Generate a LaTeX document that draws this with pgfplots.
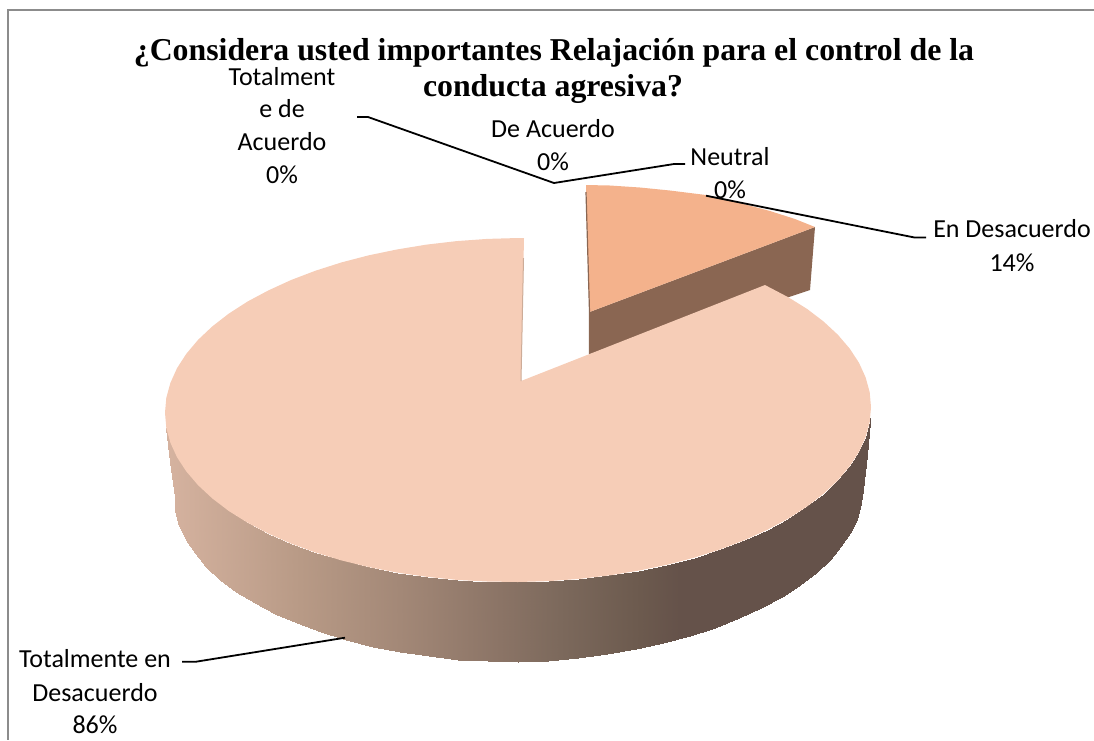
\documentclass[border=0pt]{standalone}
\usepackage{pgfplots}
\pgfplotsset{compat=1.18}
\usepackage{fontspec}
\setmainfont{Carlito}
\newfontfamily\titlefont{Liberation Serif}
\definecolor{mainface}{RGB}{246,205,183}
\definecolor{smallface}{RGB}{244,178,140}
\definecolor{smallwall}{RGB}{138,102,82}
\definecolor{framegray}{RGB}{140,140,140}
\tikzset{
  lbl/.style={font=\fontsize{26}{26}\selectfont,anchor=base,inner sep=0pt,text=black},
  ttl/.style={font=\fontsize{31.8}{31.8}\selectfont\titlefont\bfseries,anchor=base,inner sep=0pt,text=black},
  lead/.style={black,line width=1.8pt},
}
\begin{document}
\begin{tikzpicture}[x=1pt,y=1pt]
\path[use as bounding box] (0,0) rectangle (1094,740);
\begin{axis}[
  at={(0,0)},anchor=south west,
  hide axis,scale only axis,width=1094pt,height=740pt,
  xmin=0,xmax=1094,ymin=0,ymax=740,y dir=reverse,clip=false,
  colormap={piewall}{
    rgb255(165)=(214,179,160)
    rgb255(300)=(184,154,134)
    rgb255(400)=(163,136,119)
    rgb255(500)=(139,116,102)
    rgb255(560)=(124,105,92)
    rgb255(640)=(108,90,78)
    rgb255(680)=(101,82,74)
    rgb255(871)=(101,82,74)},
  point meta min=165,point meta max=871,
]
% frame
\addplot[framegray,line width=2.4pt,no markers] coordinates {(1094,10) (8,10) (8,740)};
% small slice wall
\addplot[fill=smallwall,draw=none,no markers] coordinates {(815,227) (589.5,312) (589.5,354) (700,330) (789,297) (810,290)};
% small slice face
\addplot[fill=smallface,draw=none,no markers] coordinates {(586,185) (610,185.5) (640,187.5) (670,190.5) (706,195) (740,203) (770,211) (795,219) (815,227) (589.5,312)};
\addplot[smallwall,line width=1.2pt,no markers] coordinates {(586,192) (589.5,312) (589.5,354)};
% main wall
\addplot[surf,shader=interp,mesh/rows=2,mesh/ordering=y varies,point meta=x] table {
166.3 427.8
166.3 428
170.4 442.7
170 462
177 457.2
174.5 497
177 457.2
175.3 511.4
186.3 471.4
179.2 525.7
186.3 471.4
185.7 539.7
198.1 485.2
194.7 553.4
198.1 485.2
206.2 566.7
212.3 498.4
220.1 579.5
228.8 511
236.2 591.6
247.6 522.7
254.5 603.1
268.4 533.6
274.8 613.7
291.1 543.6
296.9 623.4
315.5 552.5
320.7 632.2
341.5 560.4
346 639.9
368.8 567.1
372.6 646.5
397.3 572.6
400.4 652.1
426.6 576.8
429 656.4
456.7 579.9
458.3 659.5
487.2 581.5
488 661.4
518 582
518 662
548.8 581.1
548 660.7
579.3 578.9
577.7 658.1
609.4 575.4
607 654.3
638.7 570.6
635.6 649.4
667.2 564.7
663.4 643.1
694.5 557.6
690 635.9
720.5 549.3
715.3 627.6
744.9 540
739.1 618.3
767.6 529.6
761.2 608
788.4 518.5
781.5 596.9
807.2 506.4
799.8 585
823.7 493.6
815.9 572.6
837.9 480.2
829.8 559.6
849.7 466.2
841.3 546.2
849.7 466.2
850.3 532.7
859 451.8
856.8 518.7
865.6 437.1
860.7 503.4
865.6 437.1
862.5 490
869.7 422.2
866.5 455
870.2 418
870.2 418
};
% main face
\addplot[fill=mainface,draw=none,no markers] coordinates {
(524,238) (518,238) (487.2,238.9) (456.7,241.1) (426.6,244.6) (397.3,249.4) (368.8,255.3) (341.5,262.4) (315.5,270.7) (291.1,280) (268.4,290.4) (247.6,301.5) (228.8,313.6) (212.3,326.4) (198.1,339.8) (186.3,353.8) (177,368.2) (170.4,382.9) (166.3,397.8) (165,412.8)
(166.3,427.8) (170.4,442.7) (177,457.2) (186.3,471.4) (198.1,485.2) (212.3,498.4) (228.8,511) (247.6,522.7) (268.4,533.6) (291.1,543.6) (315.5,552.5) (341.5,560.4) (368.8,567.1) (397.3,572.6) (426.6,576.8) (456.7,579.9) (487.2,581.5) (518,582)
(548.8,581.1) (579.3,578.9) (609.4,575.4) (638.7,570.6) (667.2,564.7) (694.5,557.6) (720.5,549.3) (744.9,540) (767.6,529.6) (788.4,518.5) (807.2,506.4) (823.7,493.6) (837.9,480.2) (849.7,466.2) (859,451.8) (865.6,437.1) (869.7,422.2) (871,407.2)
(869.7,392.2) (865.6,377.3) (859,362.8) (849.7,348.6) (837.9,334.8) (823.7,321.6) (807.2,309) (788.4,297.3) (767.6,286.4) (765,285)
(521,381)};
\addplot[color={rgb,255:red,205;green,172;blue,152},line width=1pt,no markers] coordinates {(523.5,258) (521,381)};
% leader lines
\addplot[lead,no markers] coordinates {(357,117) (368,117) (554,183) (674,164) (685,164)};
\addplot[lead,no markers] coordinates {(706,195.7) (914.5,237.5) (926,237.5)};
\addplot[lead,no markers] coordinates {(182,661.7) (196,661.7) (345,637.7)};
% title
\node[ttl] at (axis cs:554,60) {¿Considera usted importantes Relajación para el control de la};
\node[ttl] at (axis cs:553,96) {conducta agresiva?};
% labels
\node[lbl] at (axis cs:282,85) {Totalment};
\node[lbl] at (axis cs:282,117) {e de};
\node[lbl] at (axis cs:282,150) {Acuerdo};
\node[lbl] at (axis cs:282,183) {0\%};
\node[lbl] at (axis cs:553,137) {De Acuerdo};
\node[lbl] at (axis cs:553,170) {0\%};
\node[lbl] at (axis cs:730,165) {Neutral};
\node[lbl] at (axis cs:730,198) {0\%};
\node[lbl] at (axis cs:1012,237) {En Desacuerdo};
\node[lbl] at (axis cs:1012,271) {14\%};
\node[lbl] at (axis cs:95,667) {Totalmente en};
\node[lbl] at (axis cs:95,701) {Desacuerdo};
\node[lbl] at (axis cs:95,733) {86\%};
\end{axis}
\end{tikzpicture}
\end{document}
